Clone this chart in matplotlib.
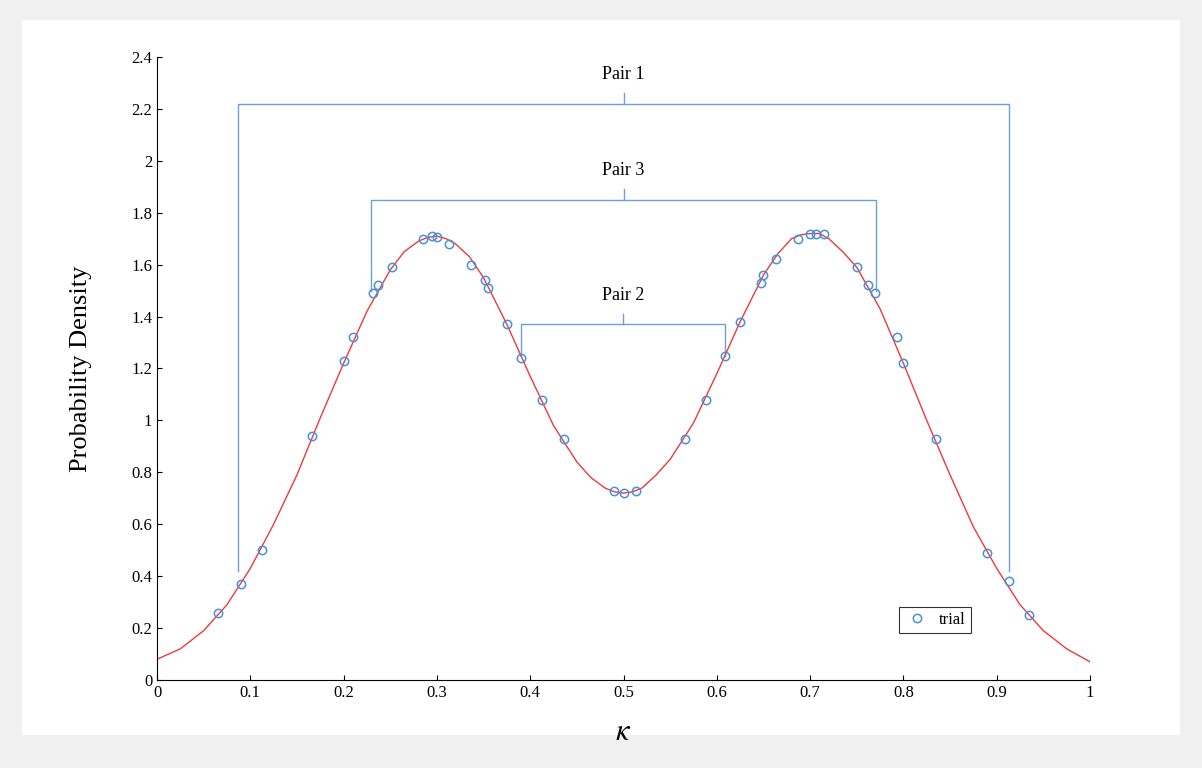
import matplotlib.pyplot as plt
from matplotlib.patches import Rectangle

plt.rcParams['font.family'] = ['Liberation Serif', 'DejaVu Serif']
plt.rcParams['mathtext.fontset'] = 'stix'

# fitted density curve
curve_x = [0, 0.025, 0.05, 0.075, 0.1, 0.125, 0.15, 0.175, 0.2, 0.225, 0.25, 0.265, 0.28,
           0.29, 0.3, 0.31, 0.32, 0.335, 0.35, 0.375, 0.4, 0.425, 0.45, 0.465, 0.48, 0.49,
           0.5, 0.51, 0.52, 0.535, 0.55, 0.575, 0.6, 0.625, 0.65, 0.665, 0.68, 0.69, 0.7,
           0.71, 0.72, 0.735, 0.75, 0.775, 0.8, 0.825, 0.85, 0.875, 0.9, 0.925, 0.95,
           0.975, 1.0]
curve_y = [0.08, 0.12, 0.19, 0.29, 0.43, 0.6, 0.79, 1.01, 1.22, 1.42, 1.58, 1.65, 1.69,
           1.705, 1.71, 1.70, 1.68, 1.63, 1.55, 1.37, 1.17, 0.98, 0.84, 0.78, 0.74, 0.725,
           0.72, 0.725, 0.74, 0.79, 0.85, 0.99, 1.18, 1.38, 1.56, 1.64, 1.70, 1.715, 1.72,
           1.72, 1.70, 1.65, 1.59, 1.43, 1.22, 1.0, 0.79, 0.59, 0.43, 0.29, 0.19,
           0.12, 0.07]

# trial points
trial_x = [0.065, 0.09, 0.113, 0.166, 0.2, 0.21, 0.232, 0.237, 0.252, 0.285, 0.295, 0.3,
           0.313, 0.337, 0.352, 0.355, 0.375, 0.39, 0.413, 0.436, 0.49, 0.5, 0.513,
           0.566, 0.588, 0.609, 0.625, 0.647, 0.65, 0.663, 0.687, 0.7, 0.706, 0.715,
           0.75, 0.762, 0.77, 0.793, 0.8, 0.835, 0.89, 0.913, 0.935]
trial_y = [0.26, 0.37, 0.5, 0.94, 1.23, 1.32, 1.49, 1.52, 1.59, 1.70, 1.71, 1.705,
           1.68, 1.6, 1.54, 1.51, 1.37, 1.24, 1.08, 0.93, 0.73, 0.72, 0.73,
           0.93, 1.08, 1.25, 1.38, 1.53, 1.56, 1.62, 1.7, 1.72, 1.72, 1.72,
           1.59, 1.52, 1.49, 1.32, 1.22, 0.93, 0.49, 0.38, 0.25]

# brackets: label, left x, right x, top y, leg bottom y
pairs = [('Pair 1', 0.087, 0.913, 2.22, 0.42),
         ('Pair 3', 0.229, 0.771, 1.85, 1.50),
         ('Pair 2', 0.390, 0.609, 1.37, 1.25)]

fig = plt.figure(figsize=(12.02, 7.68), dpi=100, facecolor='#f0f0f0')
fig.patches.append(Rectangle((22 / 1202, 1 - 735 / 768), (1180 - 22) / 1202, (735 - 20) / 768,
                             transform=fig.transFigure, facecolor='white', edgecolor='none', zorder=-5))
ax = fig.add_axes([157 / 1202, 1 - 680 / 768, (1090 - 157) / 1202, (680 - 57) / 768])

bc = '#6f9fd8'
for name, xl, xr, yt, yb in pairs:
    ax.plot([xl, xl, xr, xr], [yb, yt, yt, yb], color=bc, lw=1)
    xm = (xl + xr) / 2
    ax.plot([xm, xm], [yt, yt + 0.04], color=bc, lw=1)
    ax.text(xm, yt + 0.08, name, ha='center', va='bottom', fontsize=13)

ax.plot(curve_x, curve_y, color='#ee3a3a', lw=1)
ax.plot(trial_x, trial_y, 'o', mfc='none', mec='#4a90d9', ms=6, mew=1.1, label='trial', ls='none')

ax.set_xlim(0, 1)
ax.set_ylim(0, 2.4)
ax.set_xticks([0, 0.1, 0.2, 0.3, 0.4, 0.5, 0.6, 0.7, 0.8, 0.9, 1])
ax.set_xticklabels(['0', '0.1', '0.2', '0.3', '0.4', '0.5', '0.6', '0.7', '0.8', '0.9', '1'])
ax.set_yticks([0, 0.2, 0.4, 0.6, 0.8, 1, 1.2, 1.4, 1.6, 1.8, 2, 2.2, 2.4])
ax.set_yticklabels(['0', '0.2', '0.4', '0.6', '0.8', '1', '1.2', '1.4', '1.6', '1.8', '2', '2.2', '2.4'])
ax.tick_params(direction='in', labelsize=12)
ax.spines['top'].set_visible(False)
ax.spines['right'].set_visible(False)
ax.set_xlabel(r'$\kappa$', fontsize=22, labelpad=12)
ax.set_ylabel('Probability Density', fontsize=19, labelpad=28)
leg = ax.legend(loc='lower right', bbox_to_anchor=(0.872, 0.075), fontsize=12, fancybox=False,
                edgecolor='black', handletextpad=0.5, borderpad=0.3, handlelength=1.6,
                borderaxespad=0)
leg.get_frame().set_linewidth(0.8)

fig.savefig('out.png', dpi=100, facecolor=fig.get_facecolor())
